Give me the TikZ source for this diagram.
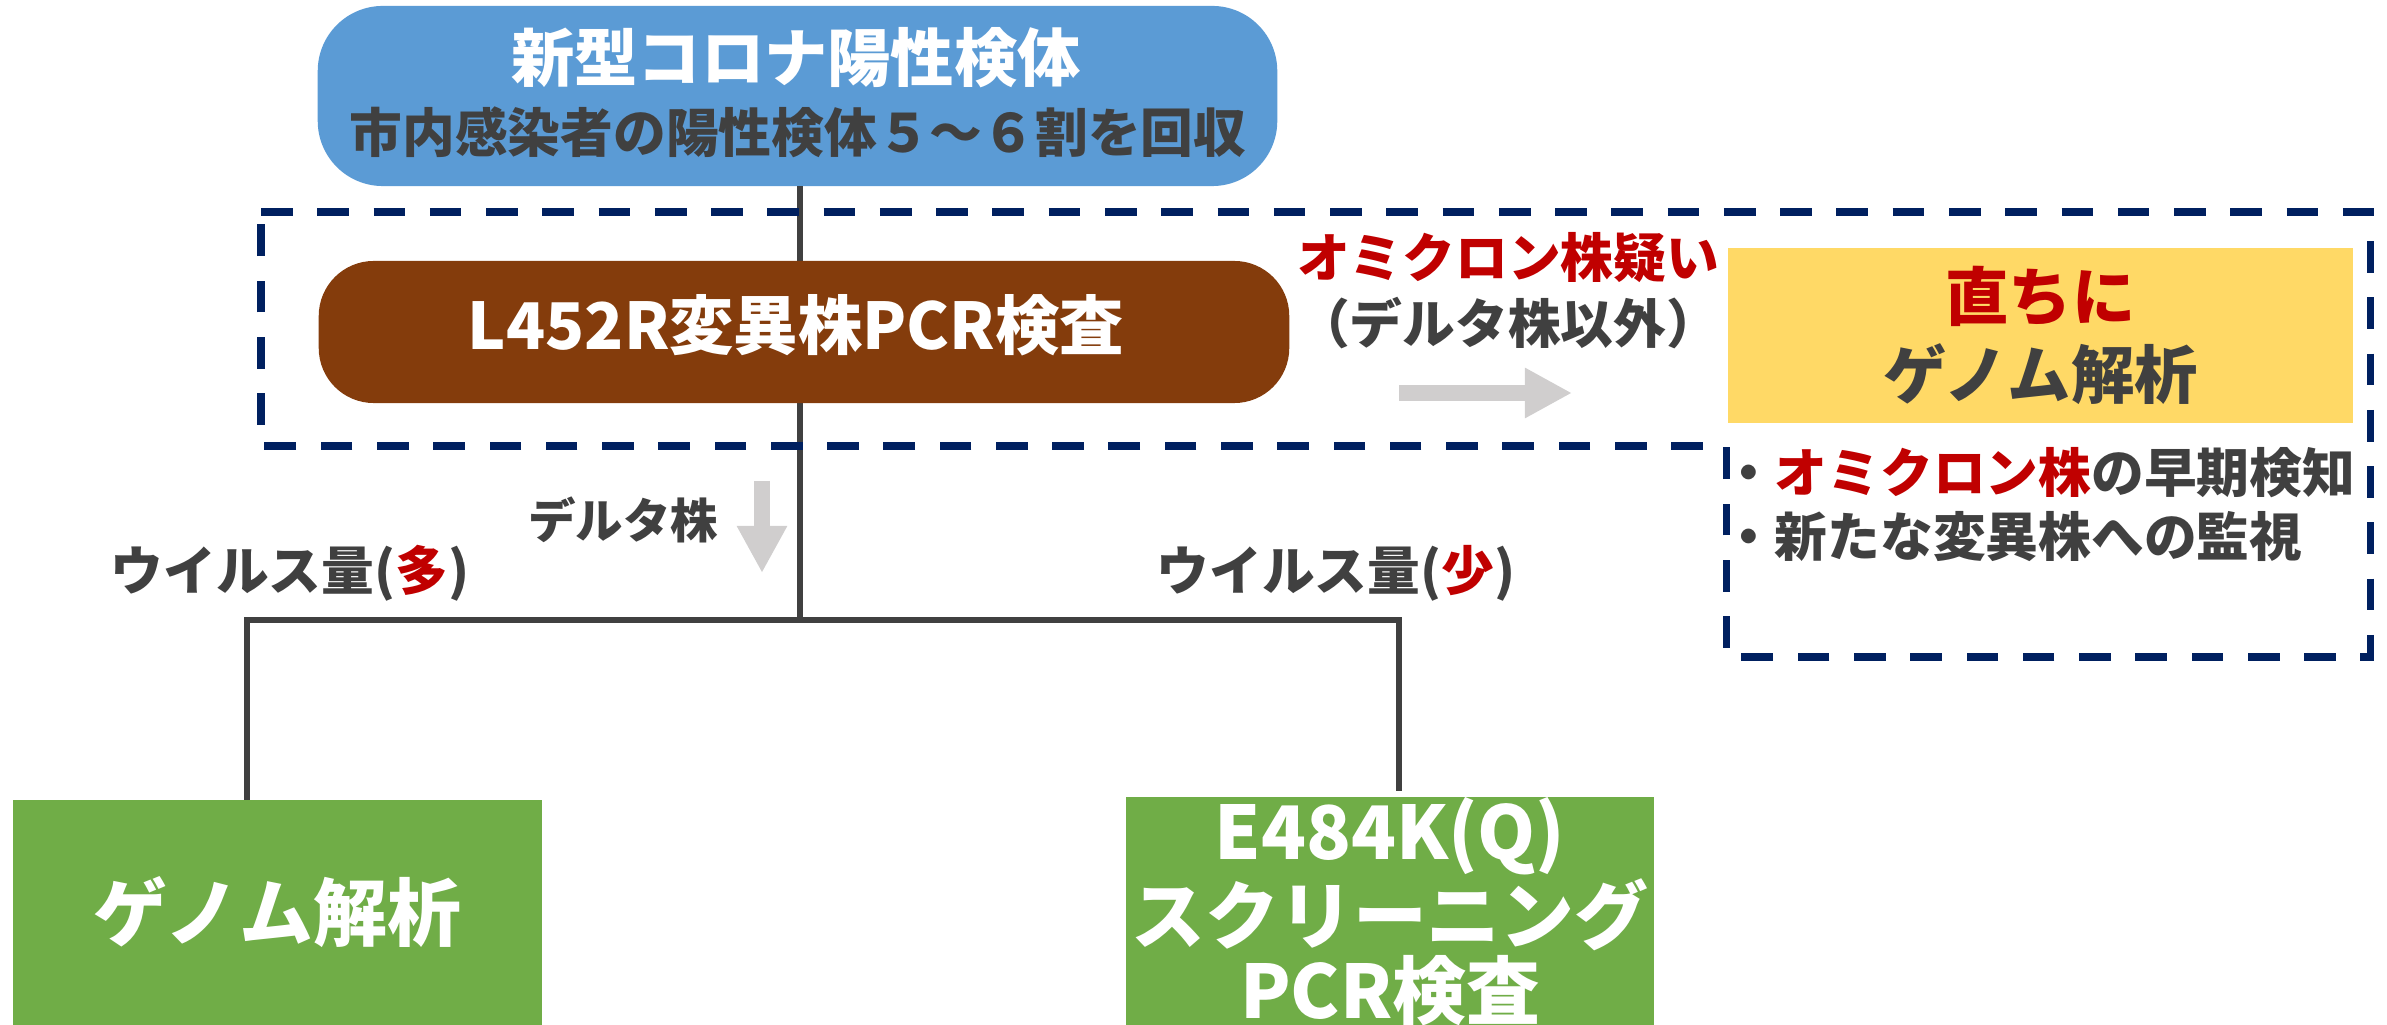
\documentclass[tikz,border=0pt]{standalone}
\usepackage{fontspec}
\setmainfont{Noto Sans CJK JP}
\usetikzlibrary{arrows.meta}
\definecolor{cblue}{HTML}{5B9BD5}
\definecolor{cbrown}{HTML}{843C0C}
\definecolor{cgreen}{HTML}{70AD47}
\definecolor{cyellow}{HTML}{FFD966}
\definecolor{cnavy}{HTML}{002060}
\definecolor{cred}{HTML}{C00000}
\definecolor{cgray}{HTML}{404040}
\definecolor{carrow}{HTML}{D0CECE}
\tikzset{
  box/.style={inner sep=0pt, outer sep=0pt, align=center, text=white},
  lbl/.style={inner sep=0pt, outer sep=0pt, text=cgray, align=center},
  conn/.style={draw=cgray, line width=1.8pt},
  grayarrow/.style={draw=carrow, line width=0.155cm, -{Triangle[width=0.47cm,length=0.47cm]}},
  dashbox/.style={draw=cnavy, line width=2pt, dash pattern=on 9pt off 7pt},
}
\begin{document}
\begin{tikzpicture}[x=0.01cm, y=-0.01cm]
\useasboundingbox (0,0) rectangle (2387,1025);
% source box
\node[box, fill=cblue, rounded corners=0.65cm, minimum width=9.59cm, minimum height=1.8cm] (src) at (797.5,96) {};
\node[lbl, text=white, font=\bfseries\fontsize{18}{21}\selectfont] (srcA) at (796,58) {新型コロナ陽性検体};
\node[lbl, font=\bfseries\fontsize{15}{18}\selectfont] (srcB) at (798,132) {市内感染者の陽性検体５～６割を回収};
% junction coordinates
\coordinate (j) at (800,620);
\coordinate (jl) at (247,620);
\coordinate (jr) at (1399,620);
\draw[conn] (j |- src.south) -- (j);
% dashed outline
\draw[dashbox] (261,212) -- (2370,212) -- (2370,657) -- (1726,657) -- (1726,446) -- (261,446) -- cycle;
% L452R box
\node[box, fill=cbrown, rounded corners=0.55cm, minimum width=9.7cm, minimum height=1.42cm] (pcr) at (804,332) {};
\node[lbl, text=white, font=\bfseries\fontsize{18.3}{22}\selectfont] (pcrT) at (796,325) {L452R変異株PCR検査};
% yellow box
\node[box, fill=cyellow, text=cgray, minimum width=6.25cm, minimum height=1.75cm, font=\bfseries\fontsize{18}{22}\selectfont] (ygen) at (2040.5,335.5) {\textcolor{cred}{直ちに}\\ゲノム解析};
% green boxes
\node[box, fill=cgreen, minimum width=5.29cm, minimum height=2.25cm, font=\bfseries\fontsize{21}{21.3}\selectfont] (gl) at (277.5,912.5) {ゲノム解析};
\node[box, fill=cgreen, minimum width=5.28cm, minimum height=2.27cm, font=\bfseries\fontsize{21}{21.3}\selectfont] (gr) at (1390,911.5) {E484K(Q)\\スクリーニング\\PCR検査};
% tree connectors
\draw[conn] (jl |- gl.north) -- (jl) -- (jr) -- ([yshift=0.06cm]jr |- gr.north);
% labels
\node[lbl, text=cred, font=\bfseries\fontsize{15}{18}\selectfont] (omi) at (1508,258) {オミクロン株疑い};
\node[lbl, font=\bfseries\fontsize{15}{18}\selectfont] (notd) at (1508,323) {（デルタ株以外）};
\node[lbl, font=\bfseries\fontsize{13.5}{16}\selectfont] (dl) at (623,520) {デルタ株};
\node[lbl, font=\bfseries\fontsize{15}{18}\selectfont] (vh) at (290,573) {ウイルス量(\textcolor{cred}{多})};
\node[lbl, font=\bfseries\fontsize{15}{18}\selectfont] (vl) at (1336,573) {ウイルス量(\textcolor{cred}{少})};
\node[lbl, anchor=west, font=\bfseries\fontsize{15}{18}\selectfont] (b1) at (1722,473) {・\textcolor{cred}{オミクロン株}の早期検知};
\node[lbl, anchor=west, font=\bfseries\fontsize{15}{18}\selectfont] (b2) at (1722,537) {・新たな変異株への監視};
% gray arrows
\coordinate (ra1) at (1399,393);
\coordinate (ra2) at (1572,393);
\draw[grayarrow] (ra1) -- (ra2);
\coordinate (da1) at (762,481);
\coordinate (da2) at (762,573);
\draw[grayarrow] (da1) -- (da2);
\end{tikzpicture}
\end{document}
